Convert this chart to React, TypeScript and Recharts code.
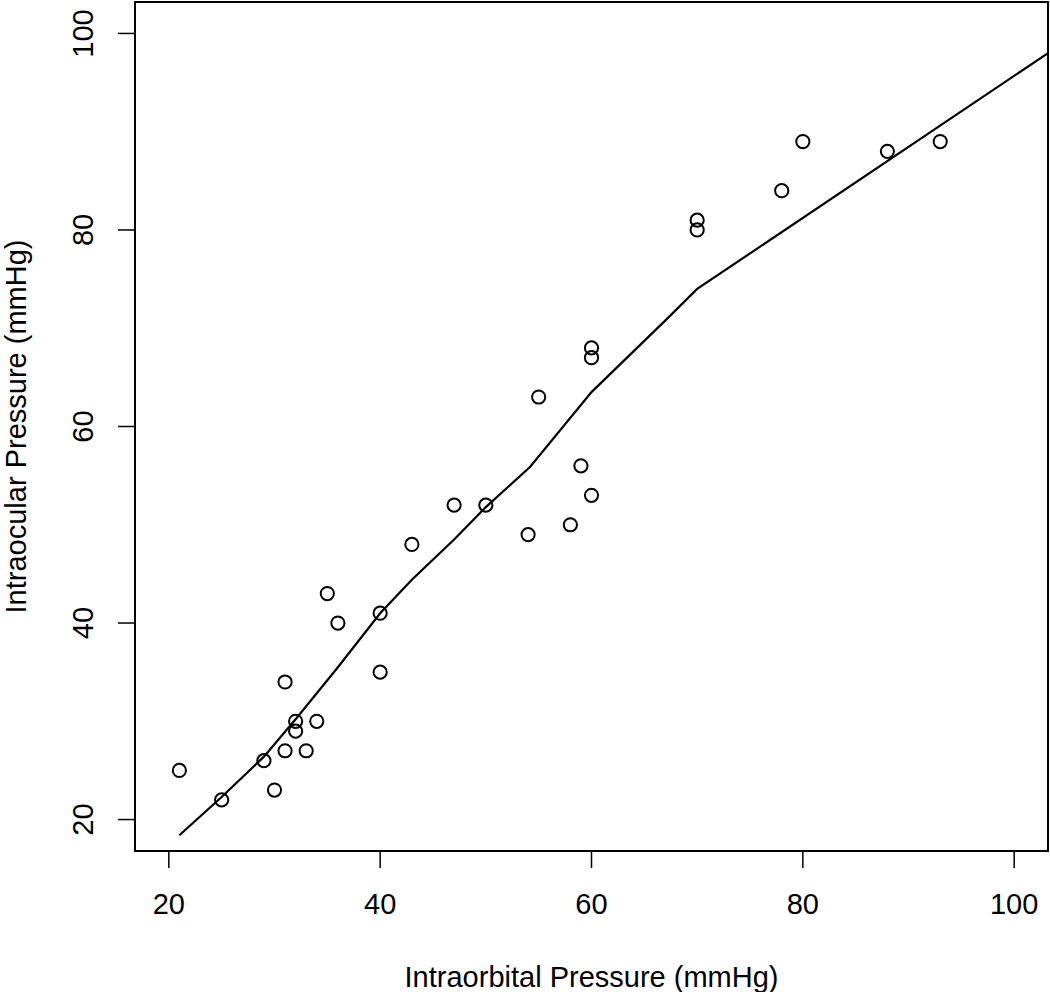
import { ScatterChart, Scatter, XAxis, YAxis, ReferenceArea, Label } from 'recharts';

// observed pairs
const orbital = [21, 25, 29, 30, 31, 31, 32, 32, 33, 34, 35, 36, 40, 40, 43, 47, 50, 54, 55, 58, 59, 60, 60, 60, 70, 70, 78, 80, 88, 93];
const ocular = [25, 22, 26, 23, 27, 34, 29, 30, 27, 30, 43, 40, 41, 35, 48, 52, 52, 49, 63, 50, 56, 53, 67, 68, 81, 80, 84, 89, 88, 89];

// smoothed fit
const fitX = [21, 25, 29, 32, 36, 40, 43, 47, 50, 54.2, 60, 67, 70, 103.2];
const fitY = [18.4, 22.3, 26.4, 30.2, 35.5, 41.0, 44.4, 48.5, 51.8, 55.9, 63.5, 70.8, 74.0, 98.0];

const axisTicks = [20, 40, 60, 80, 100];
const xTitle = 'Intraorbital Pressure (mmHg)';
const yTitle = 'Intraocular Pressure (mmHg)';

const points = orbital.map((x, i) => ({ x, y: ocular[i] }));
const fit = fitX.map((x, i) => ({ x, y: fitY[i] }));

const FONT = '"Liberation Sans", Arial, Helvetica, sans-serif';
const DOMAIN: [number, number] = [16.8, 103.2];

const RotatedTick = (props: any) => {
  const { x, y, payload } = props;
  return (
    <text
      x={x}
      y={y}
      transform={`rotate(-90, ${x}, ${y})`}
      textAnchor="middle"
      fontSize={29}
      fontFamily={FONT}
      fill="#000"
    >
      {payload.value}
    </text>
  );
};

const YTitle = (props: any) => {
  const vb = props.viewBox || { x: 0, y: 2, width: 135, height: 849 };
  const cx = 26;
  const cy = vb.y + vb.height / 2;
  return (
    <text
      x={cx}
      y={cy}
      transform={`rotate(-90, ${cx}, ${cy})`}
      textAnchor="middle"
      fontSize={29}
      fontFamily={FONT}
      fill="#000"
    >
      {yTitle}
    </text>
  );
};

const OpenCircle = (props: any) => (
  <circle cx={props.cx} cy={props.cy} r={6.6} fill="none" stroke="#000" strokeWidth={2} />
);

const App = () => {
  return (
    <div style={{ position: 'absolute', left: 0, top: 0, background: '#fff' }}>
      <ScatterChart width={1050} height={992} margin={{ top: 2, right: 2, left: 0, bottom: 0 }}>
        <XAxis
          type="number"
          dataKey="x"
          domain={DOMAIN}
          ticks={axisTicks}
          interval={0}
          allowDataOverflow
          height={141}
          axisLine={false}
          tickSize={17}
          tickMargin={25}
          tickLine={{ stroke: '#000', strokeWidth: 1.5 }}
          tick={{ fontSize: 29, fill: '#000', fontFamily: FONT }}
        >
          <Label
            value={xTitle}
            position="insideBottom"
            offset={5}
            fontSize={29}
            fontFamily={FONT}
            fill="#000"
          />
        </XAxis>
        <YAxis
          type="number"
          dataKey="y"
          domain={DOMAIN}
          ticks={axisTicks}
          interval={0}
          allowDataOverflow
          width={135}
          axisLine={false}
          tickSize={17}
          tickMargin={25}
          tickLine={{ stroke: '#000', strokeWidth: 1.5 }}
          tick={<RotatedTick />}
          label={<YTitle />}
        />
        <ReferenceArea
          x1={DOMAIN[0]}
          x2={DOMAIN[1]}
          y1={DOMAIN[0]}
          y2={DOMAIN[1]}
          fill="none"
          stroke="#000"
          strokeWidth={2}
          ifOverflow="visible"
        />
        <Scatter
          data={fit}
          line={{ stroke: '#000', strokeWidth: 2.2 }}
          lineType="joint"
          shape={() => <g />}
          isAnimationActive={false}
        />
        <Scatter data={points} shape={<OpenCircle />} isAnimationActive={false} />
      </ScatterChart>
    </div>
  );
};

export default App;
